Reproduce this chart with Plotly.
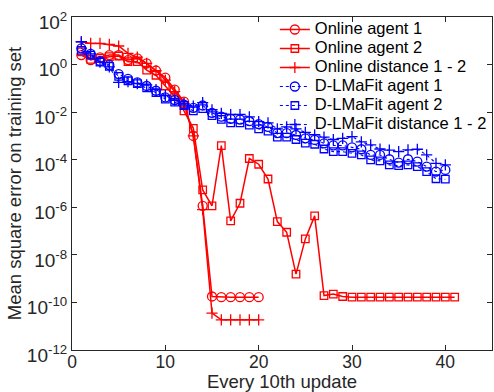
import numpy as np
import plotly.graph_objects as go

# ---- data (log10 of mean square error) ----
x_online_short = list(range(1, 21))
x_online_long = list(range(1, 42))
x_dlmafit = list(range(1, 41))

online_agent1_log10 = [0.40, 0.19, 0.30, 0.40, 0.40, 0.19, 0.26, 0.05, -0.25, -0.55,
                       -1.05, -1.56, -3.00, -5.94, -9.75, -9.78, -9.78, -9.78, -9.78, -9.78]
online_agent2_log10 = [0.54, 0.22, 0.26, 0.33, 0.36, 0.12, 0.12, -0.23, -0.45, -0.90,
                       -1.35, -1.95, -2.68, -5.27, -5.94, -3.41, -6.57, -5.83, -3.95, -4.19,
                       -4.81, -6.60, -7.05, -8.81, -7.33, -6.36, -9.71, -9.65, -9.75, -9.78,
                       -9.78, -9.78, -9.78, -9.78, -9.78, -9.78, -9.78, -9.78, -9.78, -9.78, -9.78]
online_dist_log10 = [0.96, 0.89, 0.89, 0.85, 0.78, 0.47, 0.31, 0.05, -0.26, -0.65,
                     -1.14, -1.63, -3.00, -6.10, -10.45, -10.73, -10.73, -10.73, -10.73, -10.73]
dl_agent1_log10 = [0.68, 0.45, 0.15, -0.02, -0.40, -0.60, -0.75, -0.90, -1.10, -1.38,
                   -1.49, -1.68, -1.82, -1.72, -2.03, -2.19, -2.28, -2.31, -2.38, -2.50,
                   -2.62, -2.88, -2.88, -2.96, -3.10, -3.17, -3.31, -3.40, -3.40, -3.48,
                   -3.56, -3.80, -3.80, -3.98, -4.12, -3.98, -4.08, -4.29, -4.50, -4.43]
dl_agent2_log10 = [0.60, 0.40, 0.10, -0.08, -0.50, -0.68, -0.80, -0.98, -1.18, -1.45,
                   -1.58, -1.72, -1.95, -1.85, -2.15, -2.30, -2.45, -2.45, -2.55, -2.70,
                   -2.80, -3.05, -3.05, -3.15, -3.30, -3.35, -3.55, -3.66, -3.66, -3.73,
                   -3.80, -4.01, -4.05, -4.22, -4.25, -4.22, -4.29, -4.50, -4.80, -4.82]
dl_dist_log10 = [0.96, 0.45, 0.10, -0.10, -0.75, -0.72, -0.80, -0.85, -1.05, -1.30,
                 -1.50, -1.65, -1.75, -1.60, -1.90, -2.05, -2.10, -2.10, -2.20, -2.40,
                 -2.45, -2.70, -2.62, -2.70, -2.85, -2.95, -3.05, -3.15, -3.10, -3.03,
                 -3.25, -3.38, -3.55, -3.60, -3.66, -3.59, -3.56, -3.80, -4.15, -4.22]

series_names = ["Online agent 1", "Online agent 2", "Online distance 1 - 2",
                "D-LMaFit agent 1", "D-LMaFit agent 2", "D-LMaFit distance 1 - 2"]

x_tick_vals = [0, 10, 20, 30, 40]
y_tick_vals = [1e-12, 1e-10, 1e-8, 1e-6, 1e-4, 1e-2, 1e0, 1e2]
y_tick_text = ["10<sup>-12</sup>", "10<sup>-10</sup>", "10<sup>-8</sup>", "10<sup>-6</sup>",
               "10<sup>-4</sup>", "10<sup>-2</sup>", "10<sup>0</sup>", "10<sup>2</sup>"]

RED = "#ff0000"
BLUE = "#0000ff"
INK = "#262626"
FONT = "Liberation Sans, Arial, Helvetica, sans-serif"

MARKER_SIZE = {"circle-open": 9, "square-open": 7.5, "cross-thin-open": 8}


def tr(x, ylog, name, color, symbol, dash, width):
    return go.Scatter(
        x=x, y=np.power(10.0, ylog),
        name='<span style="font-size:16.5px">' + name + '</span>',
        mode="lines+markers",
        line=dict(color=color, width=width, dash=dash),
        marker=dict(symbol=symbol, size=MARKER_SIZE[symbol], color=color,
                    line=dict(color=color, width=1.3)),
    )


fig = go.Figure()
fig.add_trace(tr(x_online_short, online_agent1_log10, series_names[0], RED, "circle-open", "solid", 1.5))
fig.add_trace(tr(x_online_long, online_agent2_log10, series_names[1], RED, "square-open", "solid", 1.5))
fig.add_trace(tr(x_online_short, online_dist_log10, series_names[2], RED, "cross-thin-open", "solid", 1.5))
fig.add_trace(tr(x_dlmafit, dl_agent1_log10, series_names[3], BLUE, "circle-open", "dot", 1.1))
fig.add_trace(tr(x_dlmafit, dl_agent2_log10, series_names[4], BLUE, "square-open", "dot", 1.1))
fig.add_trace(tr(x_dlmafit, dl_dist_log10, series_names[5], BLUE, "cross-thin-open", "dot", 1.1))

axis_common = dict(
    showline=True, linecolor=INK, linewidth=1, mirror="ticks",
    ticks="inside", ticklen=5, tickcolor=INK, showgrid=False, zeroline=False,
    automargin=False,
)

fig.update_layout(
    width=494, height=392,
    margin=dict(l=72, r=2, t=17, b=42),
    paper_bgcolor="white", plot_bgcolor="white",
    font=dict(family=FONT, size=16, color=INK),
    xaxis=dict(range=[0, 45], tickvals=x_tick_vals,
               tickfont=dict(family=FONT, size=17.5, color=INK),
               ticklabelstandoff=-4,
               title=dict(text="Every 10th update", font=dict(family=FONT, size=18.5, color=INK), standoff=0),
               **axis_common),
    yaxis=dict(type="log", range=[-12, 2], tickvals=y_tick_vals, ticktext=y_tick_text,
               tickfont=dict(family=FONT, size=19, color=INK),
               ticklabelshift=5, ticklabelstandoff=0,
               title=dict(text="Mean square error on training set", font=dict(family=FONT, size=18.5, color=INK), standoff=0),
               **axis_common),
    legend=dict(x=0.483, y=1.006, xanchor="left", yanchor="top",
                bgcolor="rgba(255,255,255,0)", borderwidth=0,
                font=dict(family=FONT, size=12, color="black"),
                itemwidth=30, tracegroupgap=0),
    showlegend=True,
)

fig.write_html("out.html", config={"displayModeBar": False},
               post_script="document.body.style.margin='0px';")
